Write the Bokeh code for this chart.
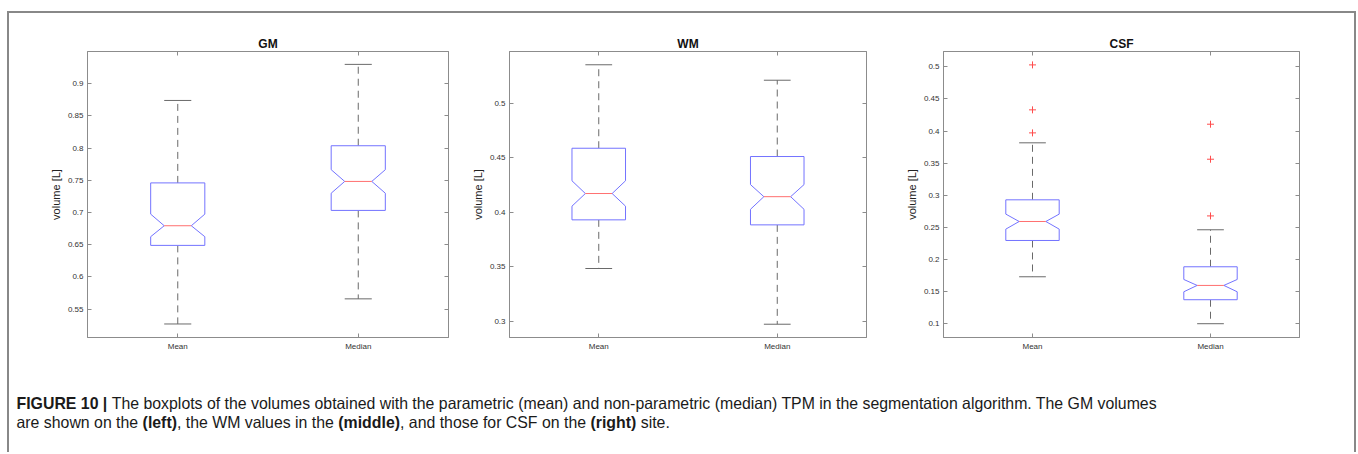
import struct, glob, os
from bokeh.plotting import figure
from bokeh.layouts import row, column
from bokeh.models import Range1d, FixedTicker, LinearAxis
from bokeh.embed import file_html
from bokeh.resources import INLINE
from bokeh.core.properties import value

# ---------------- data ----------------
categories = ["Mean", "Median"]
positions = [1, 2]

gm_ticks = [0.55, 0.6, 0.65, 0.7, 0.75, 0.8, 0.85, 0.9]
gm_ylim = [0.506, 0.950]
gm_whisker_lo = [0.527, 0.566]
gm_q1 = [0.649, 0.7033]
gm_notch_lo = [0.6625, 0.730]
gm_median = [0.6795, 0.7483]
gm_notch_hi = [0.6975, 0.7665]
gm_q3 = [0.746, 0.8037]
gm_whisker_hi = [0.874, 0.930]
gm_outliers_mean = []
gm_outliers_median = []

wm_ticks = [0.3, 0.35, 0.4, 0.45, 0.5]
wm_ylim = [0.285, 0.5478]
wm_whisker_lo = [0.3484, 0.2972]
wm_q1 = [0.3931, 0.3885]
wm_notch_lo = [0.4057, 0.4028]
wm_median = [0.4173, 0.4144]
wm_notch_hi = [0.4290, 0.4255]
wm_q3 = [0.4589, 0.4513]
wm_whisker_hi = [0.5356, 0.5214]
wm_outliers_mean = []
wm_outliers_median = []

csf_ticks = [0.1, 0.15, 0.2, 0.25, 0.3, 0.35, 0.4, 0.45, 0.5]
csf_ylim = [0.078, 0.524]
csf_whisker_lo = [0.1727, 0.0995]
csf_q1 = [0.2293, 0.1369]
csf_notch_lo = [0.2470, 0.1493]
csf_median = [0.2589, 0.1592]
csf_notch_hi = [0.2704, 0.1685]
csf_q3 = [0.2927, 0.1883]
csf_whisker_hi = [0.3816, 0.2460]
csf_outliers_mean = [0.5031, 0.4330, 0.3971]
csf_outliers_median = [0.4106, 0.3560, 0.2676]

caption_line1 = [("FIGURE 10 |", "bold"),
                 (" The boxplots of the volumes obtained with the parametric (mean) and non-parametric (median) TPM in the segmentation algorithm. The GM volumes", "normal")]
caption_line2 = [("are shown on the ", "normal"), ("(left)", "bold"),
                 (", the WM values in the ", "normal"), ("(middle)", "bold"),
                 (", and those for CSF on the ", "normal"), ("(right)", "bold"),
                 (" site.", "normal")]

# ---------------- styles ----------------
FONT = "Liberation Sans"
FRAME = "#8c8c8c"
TICKTXT = "#333333"
BOX = "#7373ff"
MED = "#ff7070"
WHISK = "#6a6a6a"


def style_axis(ax, show_labels):
    ax.major_tick_in = 4
    ax.major_tick_out = 0
    ax.minor_tick_line_color = None
    ax.major_tick_line_color = FRAME
    ax.axis_line_color = FRAME
    ax.major_label_text_font = FONT
    if show_labels:
        ax.major_label_text_font_size = "8px"
        ax.major_label_text_color = TICKTXT
        ax.major_label_standoff = 4
    else:
        ax.major_label_text_font_size = "2px"
        ax.major_label_text_color = None
        ax.major_label_standoff = 0


def make_panel(title, ticks, ylim, wlo, q1, nlo, med, nhi, q3, whi, out_mean, out_median,
               width, bl, br):
    p = figure(width=width, height=347, x_range=Range1d(0.5, 2.5),
               y_range=Range1d(ylim[0], ylim[1]), output_backend="svg",
               toolbar_location=None, x_axis_type=None, y_axis_type=None,
               min_border_left=bl, min_border_right=br, min_border_top=38,
               min_border_bottom=23, title=title)
    p.title.align = "center"
    p.title.text_font = FONT
    p.title.text_font_size = "12px"
    p.title.text_font_style = "bold"
    p.title.text_color = "#111111"
    p.title.standoff = 2
    p.outline_line_color = FRAME
    p.outline_line_width = 1
    p.background_fill_color = "white"
    p.border_fill_color = "white"

    labels = {t: f"{t:g}" for t in ticks}
    for loc in ("left", "right"):
        ax = LinearAxis(ticker=FixedTicker(ticks=ticks), major_label_overrides=labels)
        style_axis(ax, loc == "left")
        if loc == "left":
            ax.axis_label = "volume [L]"
            ax.axis_label_text_font = FONT
            ax.axis_label_text_font_size = "11px"
            ax.axis_label_text_font_style = "normal"
            ax.axis_label_text_color = "#222222"
            ax.axis_label_standoff = 3
        p.add_layout(ax, loc)
    xlabels = {pos: c for pos, c in zip(positions, categories)}
    for loc in ("below", "above"):
        ax = LinearAxis(ticker=FixedTicker(ticks=positions), major_label_overrides=xlabels)
        style_axis(ax, loc == "below")
        p.add_layout(ax, loc)

    w = 0.15
    # whiskers
    p.segment(x0=positions, y0=q3, x1=positions, y1=whi, line_color=WHISK,
              line_width=1, line_dash="7 5")
    p.segment(x0=positions, y0=q1, x1=positions, y1=wlo, line_color=WHISK,
              line_width=1, line_dash="7 5")
    # caps
    p.segment(x0=[x - w / 2 for x in positions], y0=whi,
              x1=[x + w / 2 for x in positions], y1=whi, line_color=WHISK, line_width=1)
    p.segment(x0=[x - w / 2 for x in positions], y0=wlo,
              x1=[x + w / 2 for x in positions], y1=wlo, line_color=WHISK, line_width=1)
    # notched boxes
    xs, ys = [], []
    for i, x in enumerate(positions):
        xs.append([x - w, x - w, x - w / 2, x - w, x - w, x + w, x + w, x + w / 2, x + w, x + w])
        ys.append([q1[i], nlo[i], med[i], nhi[i], q3[i], q3[i], nhi[i], med[i], nlo[i], q1[i]])
    p.patches(xs=xs, ys=ys, fill_color="white", fill_alpha=1.0, line_color=BOX, line_width=1)
    # medians
    p.segment(x0=[x - w / 2 for x in positions], y0=med,
              x1=[x + w / 2 for x in positions], y1=med, line_color=MED, line_width=1)
    # outliers
    ox = [positions[0]] * len(out_mean) + [positions[1]] * len(out_median)
    oy = list(out_mean) + list(out_median)
    if oy:
        p.scatter(x=ox, y=oy, marker="cross", size=7, line_color="#ff4d4d", line_width=1)
    return p


p1 = make_panel("GM", gm_ticks, gm_ylim, gm_whisker_lo, gm_q1, gm_notch_lo, gm_median,
                gm_notch_hi, gm_q3, gm_whisker_hi, gm_outliers_mean, gm_outliers_median,
                459, 78, 20)
p2 = make_panel("WM", wm_ticks, wm_ylim, wm_whisker_lo, wm_q1, wm_notch_lo, wm_median,
                wm_notch_hi, wm_q3, wm_whisker_hi, wm_outliers_mean, wm_outliers_median,
                434, 36, 36)
p3 = make_panel("CSF", csf_ticks, csf_ylim, csf_whisker_lo, csf_q1, csf_notch_lo, csf_median,
                csf_notch_hi, csf_q3, csf_whisker_hi, csf_outliers_mean, csf_outliers_median,
                452, 36, 55)


# ---------------- caption (text metrics for mixed bold/regular runs) ----------------
def load_width_fn(path):
    data = open(path, "rb").read()
    num = struct.unpack(">H", data[4:6])[0]
    tables = {}
    for i in range(num):
        tag, cs, off, ln = struct.unpack(">4sIII", data[12 + 16 * i:28 + 16 * i])
        tables[tag.decode("latin1")] = off
    head = tables["head"]
    upem = struct.unpack(">H", data[head + 18:head + 20])[0]
    hhea = tables["hhea"]
    nhm = struct.unpack(">H", data[hhea + 34:hhea + 36])[0]
    hmtx = tables["hmtx"]
    adv = [struct.unpack(">H", data[hmtx + 4 * i:hmtx + 4 * i + 2])[0] for i in range(nhm)]
    cmap = tables["cmap"]
    n = struct.unpack(">H", data[cmap + 2:cmap + 4])[0]
    sub = None
    for i in range(n):
        pid, eid, off = struct.unpack(">HHI", data[cmap + 4 + 8 * i:cmap + 12 + 8 * i])
        fmt = struct.unpack(">H", data[cmap + off:cmap + off + 2])[0]
        if fmt == 4:
            sub = cmap + off
            break
    segx2 = struct.unpack(">H", data[sub + 6:sub + 8])[0]
    segc = segx2 // 2
    ends = struct.unpack(">%dH" % segc, data[sub + 14:sub + 14 + segx2])
    starts = struct.unpack(">%dH" % segc, data[sub + 16 + segx2:sub + 16 + 2 * segx2])
    deltas = struct.unpack(">%dh" % segc, data[sub + 16 + 2 * segx2:sub + 16 + 3 * segx2])
    rpos = sub + 16 + 3 * segx2
    roffs = struct.unpack(">%dH" % segc, data[rpos:rpos + segx2])

    def gid(c):
        for i in range(segc):
            if ends[i] >= c:
                if starts[i] > c:
                    return 0
                if roffs[i] == 0:
                    return (c + deltas[i]) & 0xFFFF
                pp = rpos + 2 * i + roffs[i] + 2 * (c - starts[i])
                g = struct.unpack(">H", data[pp:pp + 2])[0]
                return (g + deltas[i]) & 0xFFFF if g else 0
        return 0

    def width(s, size):
        return sum(adv[min(gid(ord(ch)), nhm - 1)] for ch in s) * size / upem
    return width


def find_font(names):
    for nm in names:
        hits = glob.glob("/usr/share/fonts/**/" + nm, recursive=True)
        if hits:
            return hits[0]
    return None


cap_font = "Liberation Sans Narrow"
reg = find_font(["LiberationSansNarrow-Regular.ttf"])
bld = find_font(["LiberationSansNarrow-Bold.ttf"])
if not (reg and bld):
    cap_font = "Liberation Sans"
    reg = find_font(["LiberationSans-Regular.ttf"])
    bld = find_font(["LiberationSans-Bold.ttf"])
try:
    wreg = load_width_fn(reg)
    wbld = load_width_fn(bld)
except Exception:
    wreg = lambda s, size: len(s) * 0.46 * size
    wbld = lambda s, size: len(s) * 0.50 * size


def wfn(style):
    return wbld if style == "bold" else wreg


line1_unit = sum(wfn(st)(t, 1.0) for t, st in caption_line1)
cap_size = 1141.0 / line1_unit
cap_size = max(10.0, min(cap_size, 20.0))

CAP_W, CAP_H = 1345, 92
cap = figure(width=CAP_W, height=CAP_H, x_range=Range1d(0, CAP_W), y_range=Range1d(CAP_H, 0),
             min_border=0, x_axis_type=None, y_axis_type=None, toolbar_location=None,
             output_backend="svg")
cap.outline_line_color = None
cap.background_fill_color = "white"
cap.border_fill_color = "white"

for line, ypos in ((caption_line1, 43), (caption_line2, 62)):
    x = 7.0
    for t, st in line:
        f = wfn(st)
        lead = len(t) - len(t.lstrip(" "))
        x += f(" " * lead, cap_size)
        body = t.lstrip(" ")
        cap.text(x=[x], y=[ypos], text=[body.rstrip(" ")], text_font=value(cap_font),
                 text_font_size=value(f"{cap_size:.2f}px"), text_font_style=st,
                 text_baseline="middle", text_align="left", text_color="#1a1a1a")
        x += f(body, cap_size)

layout = column(row(p1, p2, p3), cap, margin=(11, 0, 0, 7),
                styles={"border-top": "2px solid #888888", "border-left": "2px solid #888888",
                        "border-right": "2px solid #888888"})

open("out.html", "w").write(file_html(layout, INLINE))
